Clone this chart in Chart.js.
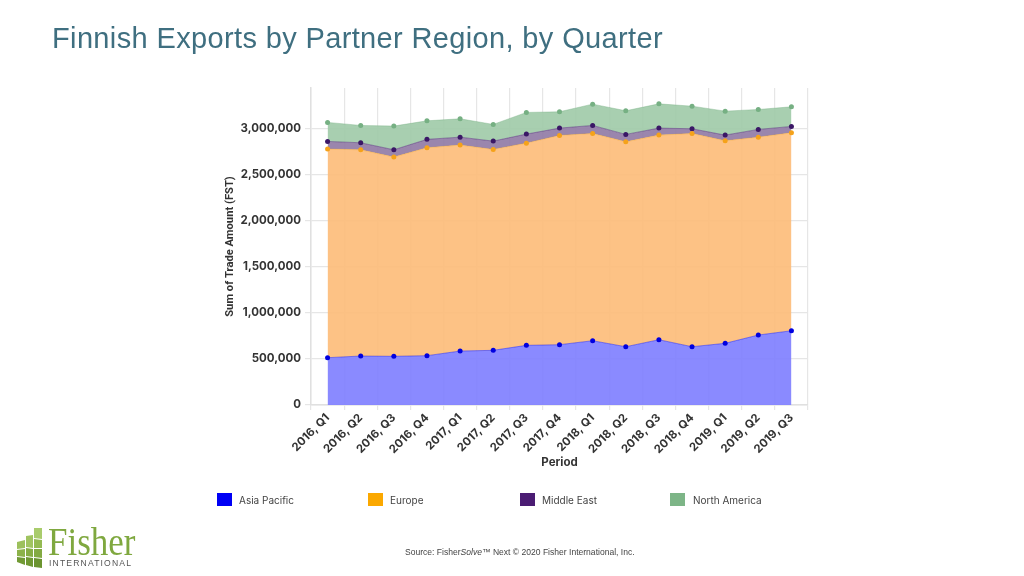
<!DOCTYPE html>
<html>
<head>
<meta charset="utf-8">
<title>Finnish Exports by Partner Region, by Quarter</title>
<script src="https://cdn.jsdelivr.net/npm/chart.js@4"></script>
<style>
  html, body { margin: 0; padding: 0; background: #fff; }
  #page { position: relative; width: 1024px; height: 576px; overflow: hidden; }
  #chart { position: absolute; left: 0; top: 0; }
  #title { position: absolute; left: 52px; top: 22px; font: 29px "Liberation Sans", Arial, sans-serif; letter-spacing: 0.36px; color: #3f6f80; white-space: nowrap; }
  #source { position: absolute; left: 405px; top: 547px; font: 8.55px "Liberation Sans", Arial, sans-serif; color: #444; white-space: nowrap; }
  .swatch { position: absolute; top: 493px; width: 15px; height: 13px; }
  .legendText { position: absolute; top: 493px; font: 10px/14px Inter, sans-serif; color: #444; white-space: nowrap; }
  #logo { position: absolute; left: 0; top: 515px; }
</style>
</head>
<body>
<div id="page">
  <canvas id="chart" width="1024" height="576"></canvas>
  <div id="title">Finnish Exports by Partner Region, by Quarter</div>
  <div id="legend"></div>
  <div id="source">Source: Fisher<i>Solve</i>™ Next © 2020 Fisher International, Inc.</div>
  <svg id="logo" width="150" height="61">
    <polygon points="34,13 42,13 42,24 34,23" fill="#a9cc6c"/>
    <polygon points="26,21 33,20 33,33 26,32" fill="#a0c460"/>
    <polygon points="34,24 42,25 42,33 34,33" fill="#94ba52"/>
    <polygon points="17,27 25,25 25,33 17,34" fill="#9cc05c"/>
    <polygon points="26,33 33,34 33,42 26,41" fill="#86ad44"/>
    <polygon points="34,34 42,34 42,43 34,42" fill="#83aa42"/>
    <polygon points="17,35 25,34 25,42 17,41" fill="#8cb24a"/>
    <polygon points="17,42 25,43 25,50 17,47" fill="#719a34"/>
    <polygon points="26,42 33,43 33,52 26,50" fill="#6f9832"/>
    <polygon points="34,43 42,44 42,53 34,52" fill="#6b942f"/>
    <text transform="translate(48,40) scale(1,1.15)" font-family="Liberation Serif" font-size="35" fill="#7fa83f">Fisher</text>
    <text x="49" y="51" font-family="Liberation Sans" font-size="8.6" letter-spacing="1.15" fill="#555">INTERNATIONAL</text>
  </svg>
</div>
<script>
const periods = ["2016, Q1", "2016, Q2", "2016, Q3", "2016, Q4", "2017, Q1", "2017, Q2", "2017, Q3", "2017, Q4",
  "2018, Q1", "2018, Q2", "2018, Q3", "2018, Q4", "2019, Q1", "2019, Q2", "2019, Q3"];

const asiaPacific = [513000, 531000, 528000, 535000, 585000, 593000, 647000, 654000, 697000, 632000, 708000, 632000, 669000, 759000, 805000];
const europe = [2263000, 2237000, 2161000, 2255000, 2234000, 2179000, 2193000, 2270000, 2248000, 2223000, 2219000, 2313000, 2197000, 2146000, 2147000];
const middleEast = [83000, 76000, 79000, 91000, 86000, 90000, 98000, 79000, 87000, 80000, 76000, 51000, 61000, 84000, 69000];
const northAmerica = [206000, 188000, 257000, 201000, 199000, 181000, 235000, 177000, 231000, 256000, 263000, 245000, 260000, 216000, 213000];

const seriesNames = ["Asia Pacific", "Europe", "Middle East", "North America"];
const seriesValues = [asiaPacific, europe, middleEast, northAmerica];
const lineColors = ["#0000e0", "#f5a21a", "#3a1766", "#76b083"];
const swatchColors = ["#0000f5", "#fba800", "#4b1c73", "#7db587"];
const fillColors = ["#8080ffeb", "#fdbd7beb", "#917ca6eb", "#a1cba9eb"];

const yTickValues = [0, 500000, 1000000, 1500000, 2000000, 2500000, 3000000];

// legend sits on fixed columns, so it is plain html
const legendSwatchX = [217, 368, 520, 670];
const legendTextX = [239, 390, 542, 693];
seriesNames.forEach((name, i) => {
  document.getElementById("legend").innerHTML += `
    <div class="swatch" style="left:${legendSwatchX[i]}px;background:${swatchColors[i]}"></div>
    <div class="legendText" style="left:${legendTextX[i]}px">${name}</div>
  `;
});

new Chart(document.getElementById("chart"), {
  type: "line",
  data: {
    labels: periods,
    datasets: seriesNames.map((name, i) => ({
      label: name,
      data: seriesValues[i],
      fill: i === 0 ? "origin" : "-1",
      backgroundColor: fillColors[i],
      borderColor: lineColors[i] + "66",
      borderWidth: 1,
      pointRadius: 2.5,
      pointBorderWidth: 0,
      pointBackgroundColor: lineColors[i],
      tension: 0
    }))
  },
  options: {
    responsive: false,
    animation: false,
    layout: { padding: { left: 223, top: 88, right: 216, bottom: 107 } },
    plugins: { legend: { display: false }, tooltip: { enabled: false } },
    scales: {
      x: {
        stacked: true,
        offset: true,
        afterFit: (scale) => { scale.height = 64; },
        grid: { offset: true, color: "#e6e6e6", lineWidth: 1.2, tickLength: 5 },
        border: { color: "#e0e0e0", width: 1.5 },
        ticks: { minRotation: 45, maxRotation: 45, autoSkip: false, padding: 1, color: "#333", font: { family: "Inter", size: 11.5, weight: "700" } },
        title: { display: true, text: "Period", color: "#333", padding: 0, font: { family: "Inter", size: 11.5, weight: "700" } }
      },
      y: {
        stacked: true,
        min: 0,
        max: 3438000,
        afterFit: (scale) => { scale.width = 88; },
        afterBuildTicks: (scale) => { scale.ticks = yTickValues.map(v => ({ value: v })); },
        grid: { color: "#e6e6e6", lineWidth: 1.2, tickLength: 6 },
        border: { color: "#e0e0e0", width: 1.5 },
        ticks: { padding: 4, color: "#333", font: { family: "Inter", size: 11.5, weight: "700" }, callback: (v) => v.toLocaleString("en-US") },
        title: { display: true, text: "Sum of Trade Amount (FST)", color: "#333", padding: 0, font: { family: "Roboto", size: 11.2, weight: "700" } }
      }
    }
  }
});
</script>
</body>
</html>
